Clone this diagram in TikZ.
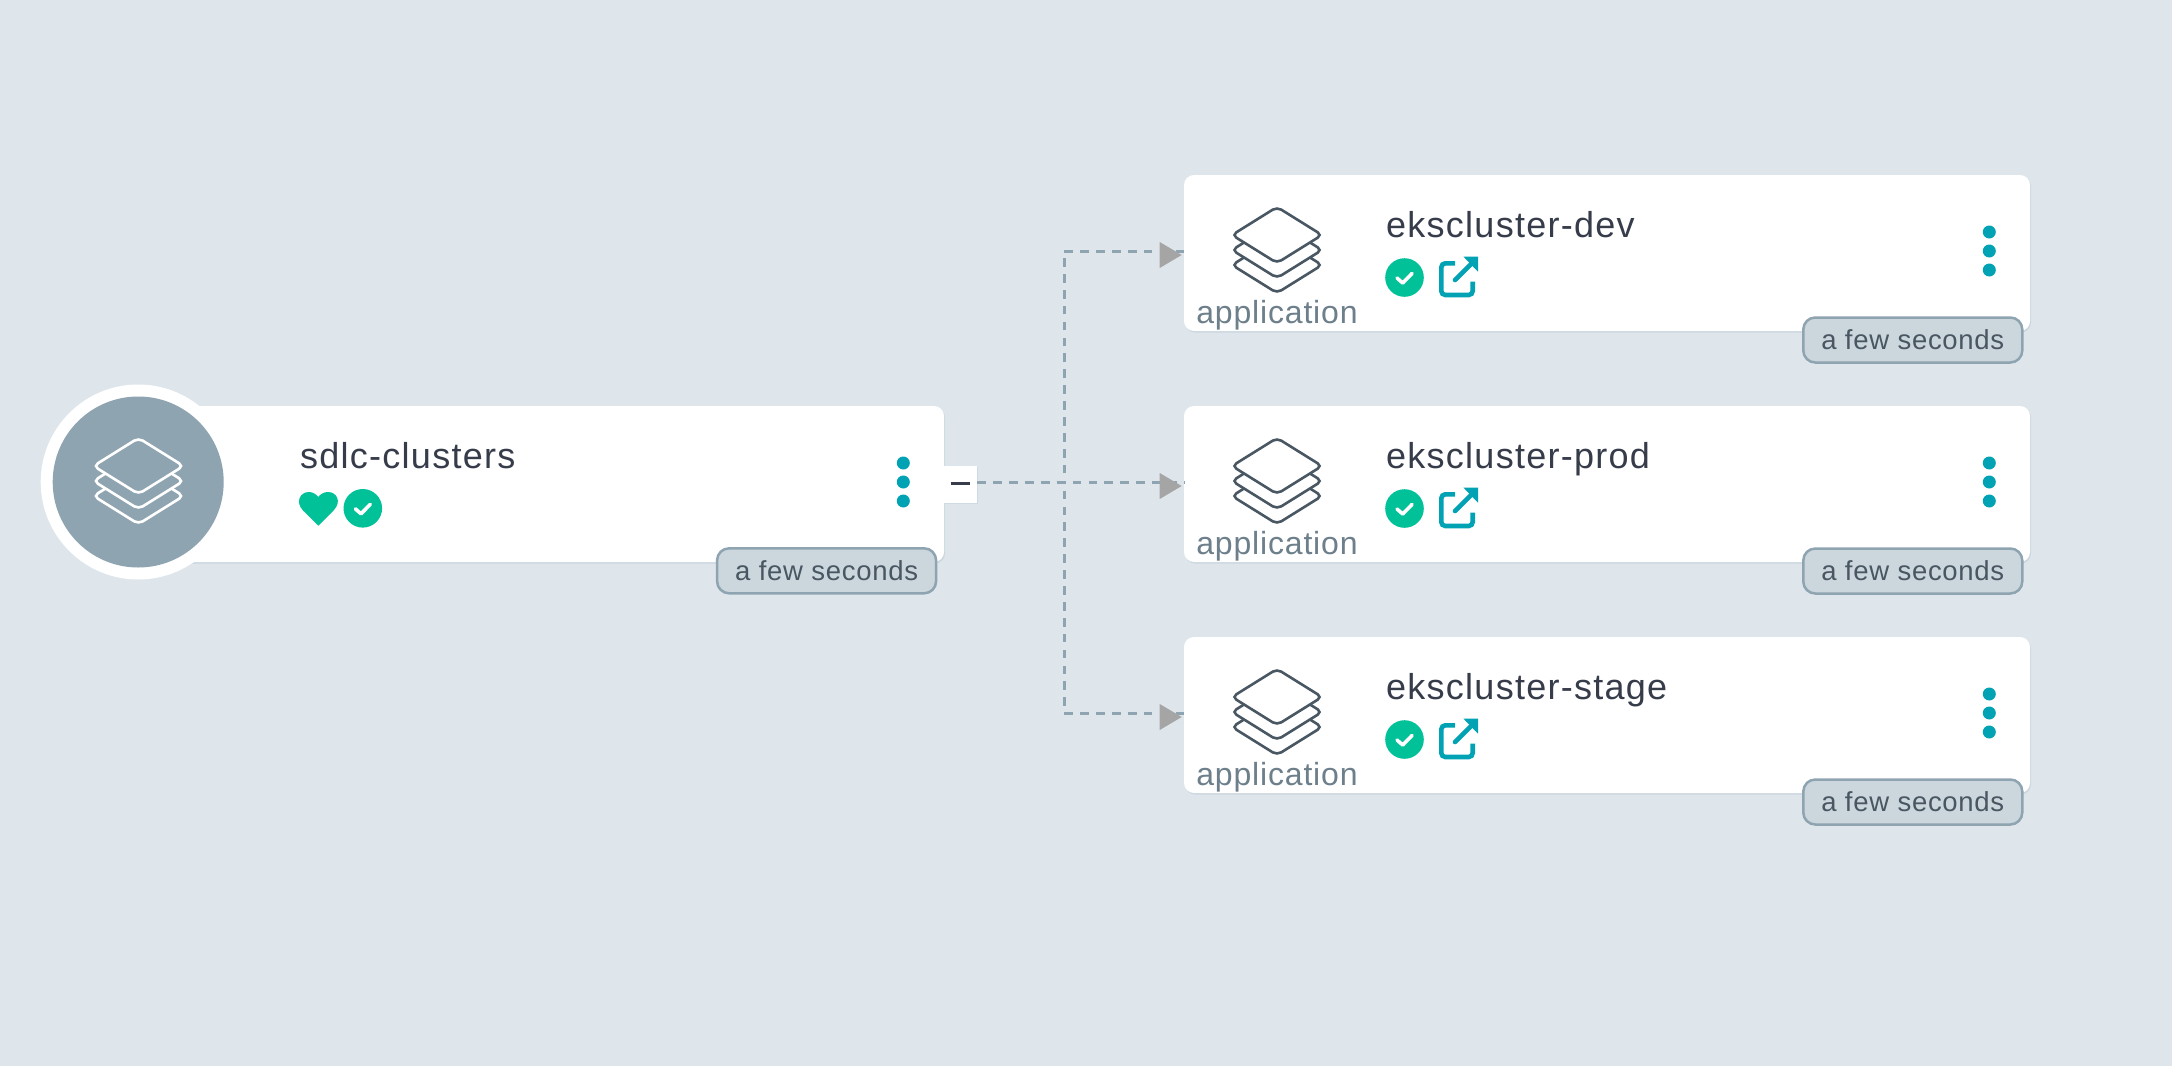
\documentclass[tikz,border=0pt]{standalone}
\usepackage{xcolor}
\usepackage{fontspec}
\setmainfont{Liberation Sans}
\newfontfamily\namefont{Liberation Sans}[LetterSpace=3.5]
\newfontfamily\smallfont{Liberation Sans}[LetterSpace=2.6]
\usepackage{tikz}
\definecolor{pagebg}{RGB}{222, 230, 236}
\definecolor{cardshade}{RGB}{196, 208, 217}
\definecolor{slategray}{RGB}{143, 164, 177}
\definecolor{badgefill}{RGB}{204, 214, 221}
\definecolor{badgetext}{RGB}{73, 87, 99}
\definecolor{iconline}{RGB}{73, 87, 99}
\definecolor{kindtext}{RGB}{109, 127, 139}
\definecolor{titletext}{RGB}{54, 60, 74}
\definecolor{tealdot}{RGB}{0, 162, 179}
\definecolor{okgreen}{RGB}{0, 193, 152}
\definecolor{arrowgray}{RGB}{165, 165, 165}
\usetikzlibrary{arrows.meta, positioning, calc, shadows}
\tikzset{
    card/.style={fill=white, rounded corners=10pt, minimum height=156pt, inner sep=0pt,
                 drop shadow={shadow xshift=1pt, shadow yshift=-1.5pt, fill=cardshade, opacity=0.7}},
    agebadge/.style={draw=slategray, fill=badgefill, line width=2.5pt, rounded corners=12pt, minimum width=219pt,
                minimum height=45pt, inner sep=0pt, text=badgetext, font=\smallfont\fontsize{27.5}{31}\selectfont},
    cardname/.style={anchor=base west, inner sep=0pt, text=titletext, font=\namefont\fontsize{36}{42}\selectfont},
    cardkind/.style={anchor=base, inner sep=0pt, text=kindtext, font=\smallfont\fontsize{32}{37}\selectfont},
    linkline/.style={draw=slategray, line width=3pt, dash pattern=on 8.7pt off 7.2pt},
    pics/layers/.style 2 args={code={
        \foreach \dy in {30,15,0}
            \draw[draw=#1, fill=#2, line width=2.6pt, rounded corners=5pt] (-45,\dy) -- (0,-28+\dy) -- (45,\dy) -- (0,28+\dy) -- cycle;
    }},
    pics/okmark/.style={code={
        \fill[okgreen] (0,0) circle (19.3pt);
        \draw[white, line width=3.6pt, line cap=round, line join=round] (-7.5,0.5) -- (-1.8,5.5) -- (7.5,-4);
    }},
    pics/openlink/.style={code={
        \draw[tealdot, line width=4.6pt, rounded corners=4pt] (-3,-14.2) -- (-16.7,-14.2) -- (-16.7,17.5) -- (14.7,17.5) -- (14.7,4);
        \draw[tealdot, line width=4.6pt, line cap=round] (-3,2.5) -- (14,-14.5);
        \fill[tealdot] (5.3,-21) -- (20,-21) -- (20,-5.8) -- cycle;
    }},
    pics/kebab/.style={code={
        \foreach \dy in {-19,0,19}
            \fill[tealdot] (0,\dy) circle (6.5pt);
    }},
    pics/arrowtip/.style={code={
        \fill[arrowgray] (-22,-13) -- (0,0) -- (-22,13) -- cycle;
    }}
}
\begin{document}
\begin{tikzpicture}[x=1pt, y=-1pt]
    \fill[pagebg] (0,0) rectangle (2172,1066);
    \useasboundingbox (0,0) rectangle (2172,1066);

    % parent
    \node[card, minimum width=794pt] (parent) at (547,484) {};
    \node[circle, fill=white, minimum size=195pt, inner sep=0pt] (parentring) at (138.2,482) {};
    \node[circle, fill=slategray, minimum size=171pt, inner sep=0pt] (parentdisc) at (138.2,482) {};
    \pic at (138.5,466) {layers={white}{slategray}};
    \node[cardname] (parentname) at (300,468) {sdlc-clusters};
    \fill[okgreen] (318.3,525.7) -- (303,510.5) .. controls (295,502) and (300,492) .. (309,492)
        .. controls (313,492) and (316.5,494.5) .. (318.3,497)
        .. controls (320,494.5) and (323.5,492) .. (328,492)
        .. controls (337,492) and (342,502) .. (333.5,510.5) -- cycle;
    \pic at (362.8,508.3) {okmark};
    \pic at (903.3,482) {kebab};
    \node[agebadge] (parentage) at (826.6,570.8) {a few seconds};
    \node[fill=white, minimum width=33pt, minimum height=37pt, inner sep=0pt, drop shadow={shadow xshift=1pt, shadow yshift=-1pt, fill=cardshade}] (fold) at (960.5,484.6) {};
    \draw[titletext, line width=3pt] (950.7,483.5) -- (970,483.5);
    \coordinate (bend) at (1064,482);

    % children
    \foreach \id/\y/\label in {dev/253/ekscluster-dev, prod/484/ekscluster-prod, stage/715/ekscluster-stage} {
        \node[card, minimum width=846pt] (\id) at (1607,\y) {};
        \pic at (1277,\y-18) {layers={iconline}{white}};
        \node[cardname] (\id name) at (1386,\y-15.3) {\label};
        \node[cardkind] (\id kind) at (1277,\y+70) {application};
        \pic at (1404.5,\y+24.5) {okmark};
        \pic at (1458,\y+24.5) {openlink};
        \pic at (1989.3,\y-2) {kebab};
        \node[agebadge] (\id age) at (1912.8,\y+87) {a few seconds};
        \coordinate (\id in) at (1184,\y-2);
        \draw[linkline] (fold.east |- bend) -- (bend) |- (\id in);
        \pic at (1181.7,\y+2) {arrowtip};
    }
\end{tikzpicture}
\end{document}
